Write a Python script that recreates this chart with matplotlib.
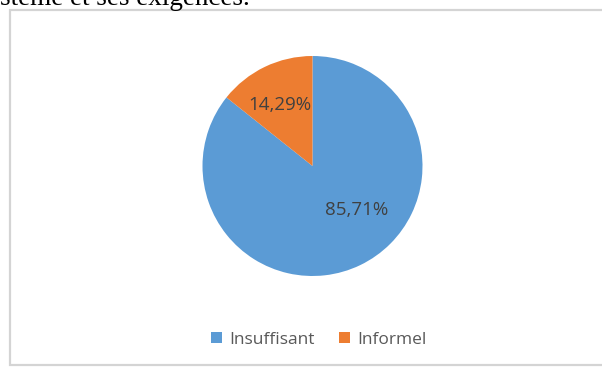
import matplotlib
matplotlib.use("Agg")
import matplotlib.pyplot as plt
from matplotlib.patches import Rectangle, Patch

categories = ["Insuffisant", "Informel"]
values = [85.71, 14.29]
colors = ["#5B9BD5", "#ED7D31"]

W, H = 602, 367
fig = plt.figure(figsize=(W / 100, H / 100), dpi=100)
fig.patch.set_facecolor("white")

# heading text of the page above the chart (partly cut at the top)
fig.text(0.0, 1 - 5 / H, "stème et ses exigences.", family="Liberation Serif",
         fontsize=19.5, color="black", ha="left", va="baseline")

# chart frame
fig.add_artist(Rectangle((10 / W, 1 - 365 / H), (W + 5 - 10) / W, (365 - 10) / H,
                         transform=fig.transFigure, facecolor="white",
                         edgecolor="#D4D4D4", linewidth=1.6, zorder=-5))

# pie
cx, cy, r = 312.5, 166, 110
ax = fig.add_axes([(cx - r) / W, 1 - (cy + r) / H, 2 * r / W, 2 * r / H])
ax.patch.set_alpha(0)
wedges, _ = ax.pie(values, colors=colors, startangle=90, counterclock=False,
                   wedgeprops=dict(linewidth=0))
ax.set_xlim(-1, 1)
ax.set_ylim(-1, 1)
ax.set_axis_off()

label_pos = [(0.40, -0.40), (-0.30, 0.555)]
for v, (lx, ly) in zip(values, label_pos):
    ax.text(lx, ly, f"{v:.2f}".replace(".", ",") + "%", ha="center", va="center",
            fontsize=13.5, color="#404040", family="Open Sans")

handles = [Patch(facecolor=c, edgecolor="none") for c in colors]
fig.legend(handles, categories, loc="center", bbox_to_anchor=(319 / W, 1 - 340 / H),
           ncol=2, frameon=False, handlelength=0.6, handleheight=0.6,
           handletextpad=0.45, columnspacing=1.4,
           prop=dict(family="Open Sans", size=12.5), labelcolor="#595959")

fig.savefig("out.png", dpi=100, facecolor="white")
